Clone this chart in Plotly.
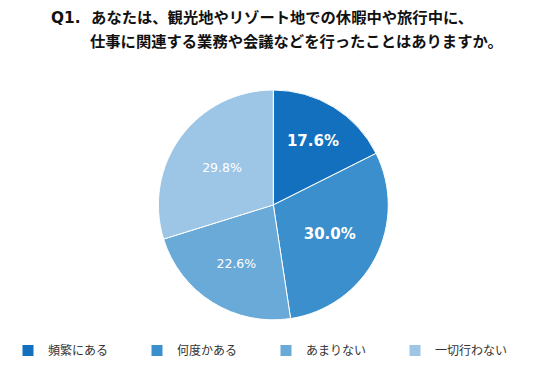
import plotly.graph_objects as go

categories = ["頻繁にある", "何度かある", "あまりない", "一切行わない"]
values = [17.6, 30.0, 22.6, 29.8]
colors = ["#1270BE", "#3A8FCC", "#6AAAD8", "#9DC6E6"]
title_line1 = "Q1.  あなたは、観光地やリゾート地での休暇中や旅行中に、"
title_line2 = "仕事に関連する業務や会議などを行ったことはありますか。"

W, H = 536, 362  # page body has an 8px margin

fig = go.Figure(go.Pie(
    labels=categories,
    values=values,
    sort=False,
    direction="clockwise",
    rotation=0,
    marker=dict(colors=colors, line=dict(color="white", width=1)),
    texttemplate=["<b>%{value:.1f}%</b>", "<b>%{value:.1f}%</b>", "%{value:.1f}%", "%{value:.1f}%"],
    textposition="inside",
    insidetextorientation="horizontal",
    textfont=dict(color="white", size=[15, 15, 12.5, 12.5], family="DejaVu Sans, Noto Sans CJK JP"),
    domain=dict(x=[0.19, 0.80], y=[0.1385, 0.7735]),
    hoverinfo="label+value",
))

fig.add_annotation(text="<b>" + title_line1 + "</b>", x=41 / W, y=1 - 10 / H,
                   xref="paper", yref="paper", xanchor="left", yanchor="middle", showarrow=False,
                   font=dict(size=15.3, color="#111", family="DejaVu Sans, Noto Sans CJK JP"))
fig.add_annotation(text="<b>" + title_line2 + "</b>", x=80 / W, y=1 - 32 / H,
                   xref="paper", yref="paper", xanchor="left", yanchor="middle", showarrow=False,
                   font=dict(size=15.3, color="#111", family="Noto Sans CJK JP"))

fig.update_layout(
    width=W, height=H,
    margin=dict(l=0, r=0, t=0, b=0),
    paper_bgcolor="white",
    showlegend=True,
    legend=dict(orientation="h", x=0, y=1 - 328 / H, xanchor="left", yanchor="top",
                entrywidth=84, entrywidthmode="pixels", itemwidth=30,
                font=dict(size=12, color="#333", family="Noto Sans CJK JP"),
                traceorder="normal"),
)

fig.write_html("out.html")
